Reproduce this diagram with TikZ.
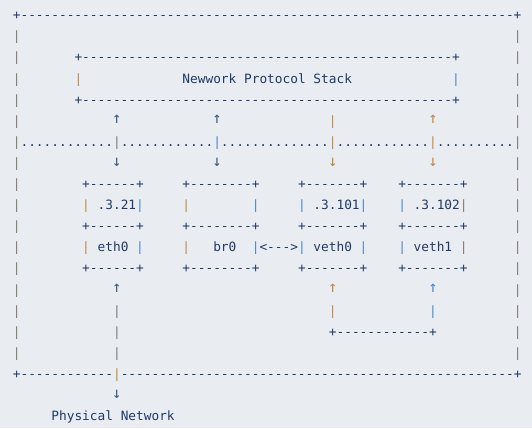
\documentclass[tikz,border=0pt]{standalone}
\usepackage{fontspec}
\setmonofont{DejaVu Sans Mono}
\definecolor{bgc}{HTML}{E9EDF1}
\definecolor{ink}{HTML}{1F3A66}
\definecolor{arr}{HTML}{3A5A80}
\definecolor{po}{HTML}{C08840}
\definecolor{pb}{HTML}{4888C8}
\definecolor{pm}{HTML}{857A70}
\ExplSyntaxOn
\cs_new:Npn \dashrun #1 { \prg_replicate:nn {#1} {-} }
\cs_new:Npn \dotrun #1 { \prg_replicate:nn {#1} {.} }
\ExplSyntaxOff
\newcounter{pc}
\newcommand\G[4][ink]{\stepcounter{pc}\node[txt,text=#1] (p\arabic{pc}) at ({12.85+7.708*#3},{19.7+21.1*#2}) {#4};}
\newcommand\A[4][arr]{\stepcounter{pc}\node[arrtxt,text=#1] (p\arabic{pc}) at ({16.7+7.708*#3},{14.3+21.1*#2}) {#4};}
\begin{document}
\begin{tikzpicture}[x=1pt,y=-1pt,
  txt/.style={anchor=base west,inner sep=0pt,outer sep=0pt,font=\ttfamily\fontsize{12.8}{15}\selectfont},
  arrtxt/.style={anchor=center,inner sep=0pt,outer sep=0pt,font=\ttfamily\fontsize{15.5}{18}\selectfont}]
\fill[bgc] (0,0) rectangle (532,428);
\useasboundingbox (0,0) rectangle (532,428);
% outer frame
\G{0}{0}{+\dashrun{64}+}
\foreach \k in {1,...,16}{\G[pm]{\k}{0}{|}\G[pm]{\k}{65}{|}}
% protocol stack box
\G{2}{8}{+\dashrun{48}+}
\G[po]{3}{8}{|}
\G{3}{22}{Newwork}
\G{3}{30}{Protocol}
\G{3}{39}{Stack}
\G[pb]{3}{57}{|}
\G{4}{8}{+\dashrun{48}+}
% arrows up
\A{5}{13}{↑}
\A{5}{26}{↑}
\G[po]{5}{41}{|}
\A[po]{5}{54}{↑}
% dotted line
\G{6}{1}{\dotrun{12}}
\G[pm]{6}{13}{|}
\G{6}{14}{\dotrun{12}}
\G[pb]{6}{26}{|}
\G{6}{27}{\dotrun{14}}
\G[po]{6}{41}{|}
\G{6}{42}{\dotrun{12}}
\G[po]{6}{54}{|}
\G{6}{55}{\dotrun{10}}
% arrows down
\A{7}{13}{↓}
\A{7}{26}{↓}
\A[po]{7}{41}{↓}
\A[po]{7}{54}{↓}
% device boxes
\foreach \k in {8,10,12}{\G{\k}{9}{+\dashrun{6}+}\G{\k}{22}{+\dashrun{8}+}\G{\k}{37}{+\dashrun{7}+}\G{\k}{50}{+\dashrun{7}+}}
\foreach \k in {9,11}{\G[po]{\k}{9}{|}\G[pb]{\k}{16}{|}\G[po]{\k}{22}{|}\G[pb]{\k}{31}{|}\G[pb]{\k}{37}{|}\G[pb]{\k}{45}{|}\G[pb]{\k}{50}{|}\G[pm]{\k}{58}{|}}
\G{9}{11}{.3.21}
\G{9}{39}{.3.101}
\G{9}{52}{.3.102}
\G{11}{11}{eth0}
\G{11}{26}{br0}
\G{11}{32}{<--->}
\G{11}{39}{veth0}
\G{11}{52}{veth1}
% lower arrows
\A{13}{13}{↑}
\A[po]{13}{41}{↑}
\A[pb]{13}{54}{↑}
\G[pm]{14}{13}{|}
\G[po]{14}{41}{|}
\G[pb]{14}{54}{|}
\G[pm]{15}{13}{|}
\G{15}{41}{+\dashrun{12}+}
\G[pm]{16}{13}{|}
% bottom frame
\G{17}{0}{+\dashrun{12}}
\G[po]{17}{13}{|}
\G{17}{14}{\dashrun{51}+}
\A{18}{13}{↓}
\G{19}{5}{Physical}
\G{19}{14}{Network}
\end{tikzpicture}
\end{document}
